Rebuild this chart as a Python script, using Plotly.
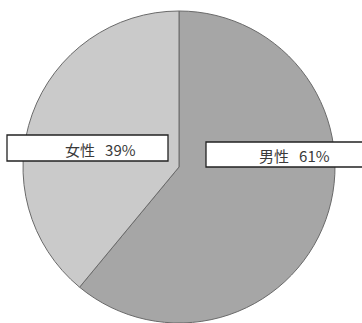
import plotly.graph_objects as go

# Respondent gender split
labels = ["男性", "女性"]
values = [61, 39]
colors = ["#a6a6a6", "#cacaca"]

W, H = 362, 323

fig = go.Figure(
    go.Pie(
        labels=labels,
        values=values,
        sort=False,
        direction="clockwise",
        rotation=0,
        marker=dict(colors=colors, line=dict(color="#6a6a6a", width=1)),
        textinfo="none",
        hoverinfo="label+percent",
        domain=dict(x=[23 / W, 335 / W], y=[0 / H, 312 / H]),
    )
)

# Label boxes (pixel boxes converted to paper units)
boxes = {
    "男性": dict(x0=206, x1=366, y0=142, y1=167, tx=294, ty=155),
    "女性": dict(x0=7, x1=168, y0=135, y1=161, tx=100, ty=149),
}

total = sum(values)
for lab, val in zip(labels, values):
    b = boxes[lab]
    fig.add_shape(
        type="rect", xref="paper", yref="paper",
        x0=b["x0"] / W, x1=b["x1"] / W,
        y0=1 - b["y1"] / H, y1=1 - b["y0"] / H,
        fillcolor="white", line=dict(color="#222222", width=1.3),
    )
    fig.add_annotation(
        xref="paper", yref="paper",
        x=b["tx"] / W, y=1 - b["ty"] / H,
        text=f"{lab}&nbsp;&nbsp;&nbsp;{round(val / total * 100)}%",
        showarrow=False,
        font=dict(family="Noto Sans CJK JP", size=15, color="#3a3a3a"),
        xanchor="center", yanchor="middle",
    )

fig.update_layout(
    width=W, height=H,
    margin=dict(l=0, r=0, t=0, b=0),
    paper_bgcolor="white",
    plot_bgcolor="white",
    showlegend=False,
)

fig.write_html("out.html")
